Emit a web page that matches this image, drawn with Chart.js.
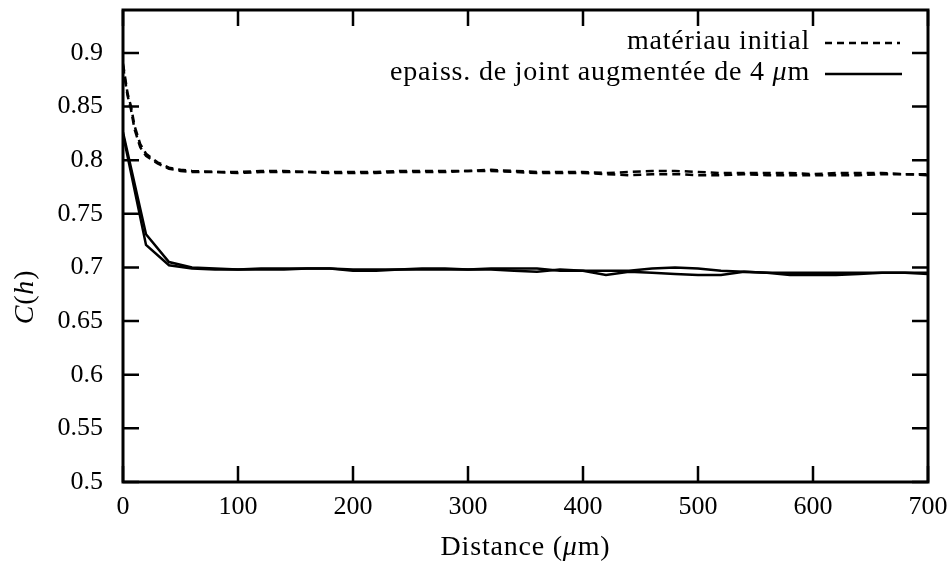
<!DOCTYPE html>
<html>
<head>
<meta charset="utf-8">
<script src="https://cdn.jsdelivr.net/npm/chart.js@4/dist/chart.umd.min.js"></script>
<style>
  body { margin: 0; background: #fff; }
  #wrap { width: 952px; height: 567px; }
</style>
</head>
<body>
<div id="wrap"><canvas id="chart" width="952" height="567"></canvas></div>
<script>
// distances (um) for the dashed curves (materiau initial)
var distInit = [0, 2, 4, 7, 10, 15, 20, 30, 40, 50, 60,
  80, 100, 120, 140, 160, 180, 200, 220, 240, 260, 280, 300, 320, 340, 360, 380, 400,
  420, 440, 460, 480, 500, 520, 540, 560, 580, 600, 620, 640, 660, 680, 700];
var initA = [0.890, 0.876, 0.862, 0.850, 0.832, 0.815, 0.806, 0.798, 0.793, 0.791, 0.790,
  0.789, 0.789, 0.790, 0.790, 0.789, 0.789, 0.789, 0.789, 0.790, 0.790, 0.790, 0.790, 0.791, 0.790, 0.789, 0.789, 0.789,
  0.788, 0.789, 0.790, 0.790, 0.789, 0.788, 0.788, 0.788, 0.788, 0.787, 0.788, 0.788, 0.788, 0.787, 0.787];
var initB = [0.888, 0.873, 0.860, 0.847, 0.829, 0.812, 0.804, 0.797, 0.792, 0.790, 0.789,
  0.789, 0.788, 0.789, 0.789, 0.789, 0.788, 0.788, 0.788, 0.789, 0.789, 0.789, 0.790, 0.790, 0.789, 0.788, 0.788, 0.788,
  0.787, 0.786, 0.787, 0.787, 0.786, 0.786, 0.787, 0.786, 0.786, 0.786, 0.786, 0.786, 0.787, 0.787, 0.786];

// distances (um) for the solid curves (joint +4 um)
var distJoint = [0, 20, 40, 60, 80, 100, 120, 140, 160, 180, 200, 220, 240, 260, 280, 300, 320, 340,
  360, 380, 400, 420, 440, 460, 480, 500, 520, 540, 560, 580, 600, 620, 640, 660, 680, 700];
var jointA = [0.824, 0.721, 0.702, 0.699, 0.698, 0.698, 0.698, 0.698, 0.699, 0.699, 0.697, 0.697, 0.698, 0.698, 0.698, 0.698, 0.699, 0.699,
  0.699, 0.697, 0.697, 0.693, 0.696, 0.695, 0.694, 0.693, 0.693, 0.696, 0.695, 0.693, 0.693, 0.693, 0.694, 0.695, 0.695, 0.695];
var jointB = [0.826, 0.731, 0.705, 0.700, 0.699, 0.698, 0.699, 0.699, 0.699, 0.699, 0.698, 0.698, 0.698, 0.699, 0.699, 0.698, 0.698, 0.697,
  0.696, 0.698, 0.697, 0.697, 0.697, 0.699, 0.700, 0.699, 0.697, 0.696, 0.695, 0.695, 0.695, 0.695, 0.695, 0.695, 0.695, 0.694];

var xTicks = [0, 100, 200, 300, 400, 500, 600, 700];
var yTicks = [0.5, 0.55, 0.6, 0.65, 0.7, 0.75, 0.8, 0.85, 0.9];

var serif = '"Liberation Serif", "DejaVu Serif", serif';
var fontPx = 26;
var textPx = 28;

function pts(xs, ys) {
  return xs.map(function (x, i) { return { x: x, y: ys[i] }; });
}

// draw a string made of upright / italic pieces
function richText(ctx, parts, x, y, align) {
  ctx.letterSpacing = '0.8px';
  var widths = parts.map(function (p) {
    ctx.font = (p[1] ? 'italic ' : '') + textPx + 'px ' + serif;
    return ctx.measureText(p[0]).width;
  });
  var total = widths.reduce(function (a, b) { return a + b; }, 0);
  var cx = align === 'right' ? x - total : (align === 'center' ? x - total / 2 : x);
  ctx.textAlign = 'left';
  ctx.textBaseline = 'middle';
  parts.forEach(function (p, i) {
    ctx.font = (p[1] ? 'italic ' : '') + textPx + 'px ' + serif;
    ctx.fillText(p[0], cx, y);
    cx += widths[i];
  });
  ctx.letterSpacing = '0px';
}

var framePlugin = {
  id: 'frame',
  afterDraw: function (chart) {
    var ctx = chart.ctx, a = chart.chartArea;
    var xs = chart.scales.x, ys = chart.scales.y;
    var tl = 16;
    ctx.save();
    ctx.strokeStyle = '#000';
    ctx.fillStyle = '#000';
    ctx.lineWidth = 2.5;
    ctx.beginPath();
    xTicks.forEach(function (v) {
      var px = xs.getPixelForValue(v);
      ctx.moveTo(px, a.bottom); ctx.lineTo(px, a.bottom - tl);
      ctx.moveTo(px, a.top); ctx.lineTo(px, a.top + tl);
    });
    yTicks.forEach(function (v) {
      var py = ys.getPixelForValue(v);
      ctx.moveTo(a.left, py); ctx.lineTo(a.left + tl, py);
      ctx.moveTo(a.right, py); ctx.lineTo(a.right - tl, py);
    });
    ctx.stroke();
    ctx.lineWidth = 3;
    ctx.strokeRect(a.left, a.top, a.right - a.left, a.bottom - a.top);

    // legend
    richText(ctx, [['matériau initial', false]], 810, 42, 'right');
    richText(ctx, [['epaiss. de joint augmentée de 4 ', false], ['μ', true], ['m', false]], 810, 73, 'right');
    ctx.lineWidth = 2.5;
    ctx.setLineDash([7, 5]);
    ctx.beginPath(); ctx.moveTo(825, 43); ctx.lineTo(900, 43); ctx.stroke();
    ctx.setLineDash([]);
    ctx.beginPath(); ctx.moveTo(825, 74); ctx.lineTo(902, 74); ctx.stroke();

    // axis titles
    richText(ctx, [['Distance (', false], ['μ', true], ['m)', false]], (a.left + a.right) / 2, 548, 'center');
    ctx.translate(26, 297);
    ctx.rotate(-Math.PI / 2);
    richText(ctx, [['C', true], ['(', false], ['h', true], [')', false]], 0, 0, 'center');
    ctx.restore();
  }
};

var lineStyle = { showLine: true, pointRadius: 0, borderColor: '#000', borderWidth: 2.5, tension: 0, fill: false };

new Chart(document.getElementById('chart').getContext('2d'), {
  type: 'scatter',
  data: {
    datasets: [
      Object.assign({ label: 'matériau initial', data: pts(distInit, initA), borderDash: [8, 5] }, lineStyle),
      Object.assign({ label: 'matériau initial (2)', data: pts(distInit, initB), borderDash: [8, 5] }, lineStyle),
      Object.assign({ label: 'epaiss. de joint augmentée de 4 μm', data: pts(distJoint, jointA) }, lineStyle),
      Object.assign({ label: 'epaiss. de joint (2)', data: pts(distJoint, jointB) }, lineStyle)
    ]
  },
  options: {
    responsive: false,
    animation: false,
    layout: { padding: { left: 0, top: 10, right: 24, bottom: 0 } },
    plugins: { legend: { display: false }, tooltip: { enabled: false } },
    scales: {
      x: {
        type: 'linear', min: 0, max: 700,
        grid: { display: false },
        border: { display: false },
        afterBuildTicks: function (s) { s.ticks = xTicks.map(function (v) { return { value: v }; }); },
        afterFit: function (s) { s.height = 85; s.paddingLeft = 0; s.paddingRight = 0; },
        ticks: { color: '#000', padding: 2, maxRotation: 0, font: { family: serif, size: fontPx } }
      },
      y: {
        type: 'linear', min: 0.5, max: 0.94,
        grid: { display: false },
        border: { display: false },
        afterBuildTicks: function (s) { s.ticks = yTicks.map(function (v) { return { value: v }; }); },
        afterFit: function (s) { s.width = 123; s.paddingTop = 0; s.paddingBottom = 0; },
        ticks: {
          color: '#000', padding: 12, font: { family: serif, size: fontPx },
          callback: function (v) { return String(+v.toFixed(2)); }
        }
      }
    }
  },
  plugins: [framePlugin]
});
</script>
</body>
</html>
